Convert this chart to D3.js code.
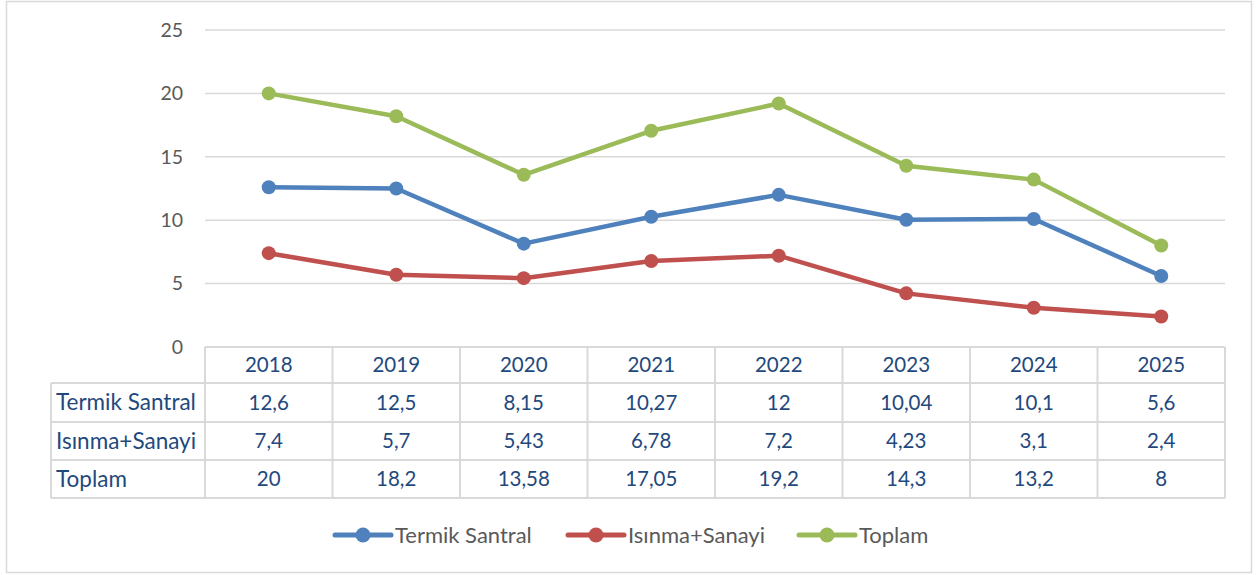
<!DOCTYPE html>
<html><head><meta charset="utf-8">
<script src="https://cdn.jsdelivr.net/npm/d3@7"></script>
<style>body{margin:0;background:#fff;}svg{display:block;}text{font-family:Lato,"Open Sans",sans-serif;}</style>
</head><body>
<svg id="c" width="1257" height="575"></svg>
<script>
const years = ["2018","2019","2020","2021","2022","2023","2024","2025"];
const termik = [12.6,12.5,8.15,10.27,12,10.04,10.1,5.6];
const isinma = [7.4,5.7,5.43,6.78,7.2,4.23,3.1,2.4];
const toplam = [20,18.2,13.58,17.05,19.2,14.3,13.2,8];
const yTicks = [0,5,10,15,20,25];
const seriesNames = ["Termik Santral","Isınma+Sanayi","Toplam"];
const seriesColors = ["#4F81BD","#C0504D","#9BBB59"];
const seriesData = [termik, isinma, toplam];
const fmt = v => String(v).replace(".", ",");

const svg = d3.select("#c");
svg.append("rect").attr("x",6.5).attr("y",1.5).attr("width",1245).attr("height",571)
  .attr("fill","#fff").attr("stroke","#D9D9D9").attr("stroke-width",1.5);

const x0 = 205, x1 = 1225;
const x = d3.scaleBand().domain(years).range([x0,x1]);
const y = d3.scaleLinear().domain([0,25]).range([347,30]);

svg.append("g").selectAll("line").data(yTicks.filter(d=>d>0)).join("line")
  .attr("x1",x0).attr("x2",x1).attr("y1",d=>y(d)).attr("y2",d=>y(d))
  .attr("stroke","#D9D9D9").attr("stroke-width",1.5);
svg.append("g").selectAll("text").data(yTicks).join("text")
  .attr("x",183).attr("y",d=>y(d)).attr("dy","0.35em").attr("text-anchor","end")
  .attr("font-size",19.5).attr("fill","#595959").text(d=>d);

const line = d3.line().x((d,i)=>x(years[i])+x.bandwidth()/2).y(d=>y(d));
seriesData.forEach((s,k)=>{
  svg.append("path").datum(s).attr("d",line).attr("fill","none")
    .attr("stroke",seriesColors[k]).attr("stroke-width",4.5).attr("stroke-linejoin","round");
  svg.append("g").selectAll("circle").data(s).join("circle")
    .attr("cx",(d,i)=>x(years[i])+x.bandwidth()/2).attr("cy",d=>y(d)).attr("r",7)
    .attr("fill",seriesColors[k]);
});

const rowY = [347,383,422,460,498];
const labelX = 51;
const tg = svg.append("g");
const bc = "#D9D9D9";
tg.append("line").attr("x1",x0).attr("x2",x1).attr("y1",rowY[0]).attr("y2",rowY[0]).attr("stroke",bc).attr("stroke-width",2);
for (let r=1;r<rowY.length;r++){
  tg.append("line").attr("x1",labelX).attr("x2",x1).attr("y1",rowY[r]).attr("y2",rowY[r]).attr("stroke",bc).attr("stroke-width",2);
}
tg.append("line").attr("x1",labelX).attr("x2",labelX).attr("y1",rowY[1]).attr("y2",rowY[4]).attr("stroke",bc).attr("stroke-width",2);
const colEdges = years.map(d=>x(d)).concat([x1]);
colEdges.forEach(cx=>{
  tg.append("line").attr("x1",cx).attr("x2",cx).attr("y1",rowY[0]).attr("y2",rowY[4]).attr("stroke",bc).attr("stroke-width",2);
});
const tc = "#1F497D";
tg.selectAll("text.h").data(years).join("text").attr("class","h")
  .attr("x",d=>x(d)+x.bandwidth()/2).attr("y",(rowY[0]+rowY[1])/2).attr("dy","0.35em")
  .attr("text-anchor","middle").attr("font-size",20.5).attr("fill",tc).text(d=>d);
seriesData.forEach((s,k)=>{
  const cy = (rowY[k+1]+rowY[k+2])/2;
  tg.append("text").attr("x",labelX+5).attr("y",cy).attr("dy","0.35em")
    .attr("font-size",22.5).attr("fill",tc).text(seriesNames[k]);
  tg.selectAll("text.v"+k).data(s).join("text").attr("class","v"+k)
    .attr("x",(d,i)=>x(years[i])+x.bandwidth()/2).attr("y",cy).attr("dy","0.35em")
    .attr("text-anchor","middle").attr("font-size",20.5).attr("fill",tc).text(d=>fmt(d));
});

const legX = [335,568,799];
const ly = 535;
seriesNames.forEach((n,k)=>{
  const g = svg.append("g");
  g.append("line").attr("x1",legX[k]).attr("x2",legX[k]+56).attr("y1",ly).attr("y2",ly)
    .attr("stroke",seriesColors[k]).attr("stroke-width",5).attr("stroke-linecap","round");
  g.append("circle").attr("cx",legX[k]+28).attr("cy",ly).attr("r",7.5).attr("fill",seriesColors[k]);
  g.append("text").attr("x",legX[k]+60).attr("y",ly).attr("dy","0.35em")
    .attr("font-size",22).attr("fill","#595959").text(n);
});
</script>
</body></html>
